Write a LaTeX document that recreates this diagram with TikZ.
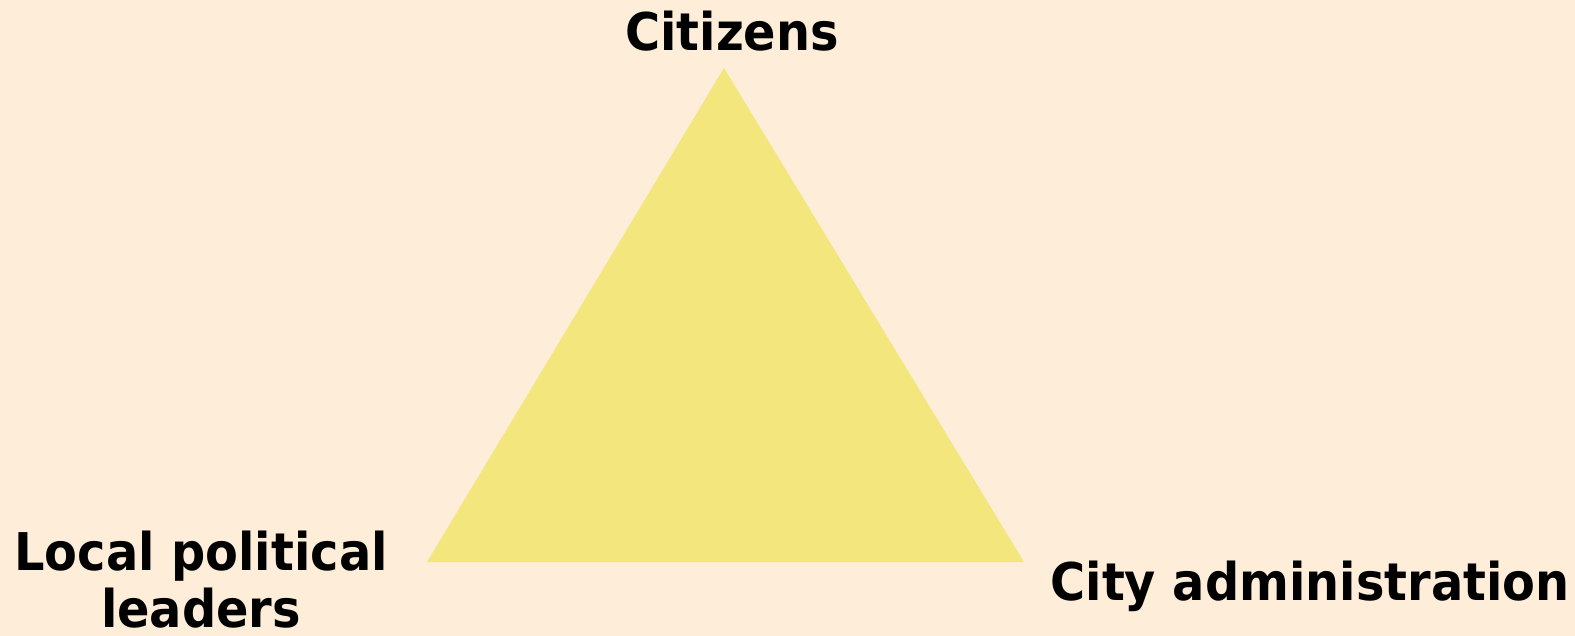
\documentclass[tikz,border=0pt]{standalone}
\usepackage{fontspec}
\setmainfont{DejaVu Sans}
\definecolor{bgpeach}{HTML}{FEEDD8}
\definecolor{triyellow}{HTML}{F2E67C}
\newcommand{\narrowtext}[1]{\scalebox{0.92}[1]{#1}}
\begin{document}
\begin{tikzpicture}[x=1pt,y=-1pt,
  lbl/.style={font=\fontsize{52}{57}\selectfont\bfseries, text=black, inner sep=0pt, align=center}]
\fill[bgpeach] (0,0) rectangle (1575,636);
\useasboundingbox (0,0) rectangle (1575,636);
\coordinate (top) at (724,68);
\coordinate (bl) at (427,562);
\coordinate (br) at (1024,562);
\fill[triyellow] (top) -- (bl) -- (br) -- cycle;
\node[lbl, anchor=base] (cit) at (732,51) {\narrowtext{Citizens}};
\node[lbl, anchor=base] (loc) at (201,627) {\narrowtext{Local political}\\\narrowtext{leaders}};
\node[lbl, anchor=base] (city) at (1310,600) {\narrowtext{City administration}};
\end{tikzpicture}
\end{document}
